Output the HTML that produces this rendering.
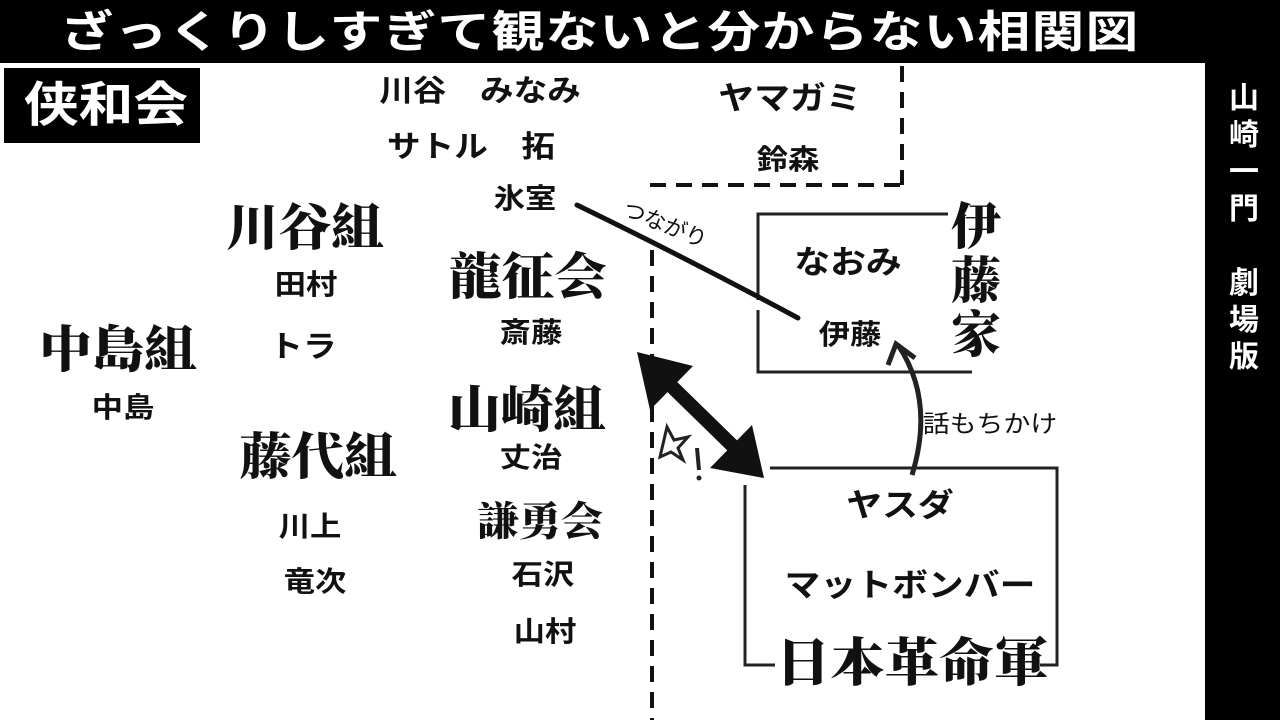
<!DOCTYPE html>
<html><head><meta charset="utf-8">
<style>
html,body{margin:0;padding:0;}
body{width:1280px;height:720px;position:relative;overflow:hidden;background:#fff;font-family:"Liberation Sans","Noto Sans CJK JP",sans-serif;}
.t{position:absolute;transform:translate(-50%,-50%) scaleX(1.12);white-space:nowrap;font-weight:bold;color:#111;line-height:1;}
.s{font-family:"Liberation Serif","Noto Serif CJK SC",serif;font-weight:900;}
.t.s{transform:translate(-50%,-50%) scaleX(1.05);}
</style></head><body>
<div style="position:absolute;left:0;top:0;width:1280px;height:63px;background:#000"></div>
<div style="position:absolute;left:1205px;top:0;width:75px;height:720px;background:#000"></div>
<div class="t" style="left:600px;top:33px;font-size:44px;color:#fff;letter-spacing:1px;transform:translate(-50%,-50%) scaleX(1.2)">ざっくりしすぎて観ないと分からない相関図</div>
<div style="position:absolute;left:1228px;top:80px;width:32px;font-size:30px;font-weight:bold;color:#fff;line-height:37px;text-align:center">山<br>崎<br>一<br>門<br><br>劇<br>場<br>版</div>
<div style="position:absolute;left:4px;top:68px;width:196px;height:75px;background:#000"></div>
<div class="t" style="left:106px;top:106px;font-size:48px;color:#fff;transform:translate(-50%,-50%) scaleX(1.14)">侠和会</div>

<svg width="1280" height="720" style="position:absolute;left:0;top:0">
<g stroke="#111" stroke-width="4" stroke-dasharray="16,10" fill="none">
<line x1="902" y1="66" x2="902" y2="185"/>
<line x1="650" y1="185" x2="902" y2="185"/>
<line x1="652" y1="250" x2="652" y2="720"/>
</g>
<g stroke="#222" stroke-width="3" fill="none">
<polyline points="948,214 758,214 758,300"/>
<polyline points="758,310 758,372 972,372"/>
<polyline points="770,468 1057,468 1057,665 1040,665"/>
<polyline points="745,485 745,665 775,665"/>
</g>
<path d="M577,205 Q690,260 798,318" stroke="#111" stroke-width="5" fill="none" stroke-linecap="round"/>
<g fill="#111">
<line x1="660" y1="375" x2="742" y2="455" stroke="#111" stroke-width="14"/>
<polygon points="637,352 693,366 650,410"/>
<polygon points="764,478 752,425 710,468"/>
</g>
<path d="M912,475 Q935,400 898,345" stroke="#222" stroke-width="5" fill="none"/>
<polyline points="888,365 896,344 915,358" stroke="#222" stroke-width="5" fill="none"/>
<polygon points="667,427 674,440 688,437 678,448 683,460 671,452 660,457 663,444" fill="none" stroke="#222" stroke-width="3"/>
<line x1="697" y1="448" x2="699" y2="470" stroke="#222" stroke-width="4"/>
<circle cx="699" cy="478" r="2.5" fill="#222"/>
</svg>
<div class="t" style="left:665px;top:225px;font-size:22px;font-weight:normal;transform:translate(-50%,-50%) rotate(22deg)">つながり</div>
<div class="t" style="left:990px;top:425px;font-size:24px;font-weight:normal;">話もちかけ</div>

<div class="t" style="left:480px;top:92px;font-size:30px">川谷　みなみ</div>
<div class="t" style="left:471px;top:148px;font-size:30px">サトル　拓</div>
<div class="t" style="left:525px;top:199px;font-size:28px">氷室</div>
<div class="t" style="left:790px;top:98px;font-size:32px">ヤマガミ</div>
<div class="t" style="left:788px;top:160px;font-size:28px">鈴森</div>
<div class="t s" style="left:305px;top:228px;font-size:50px">川谷組</div>
<div class="t" style="left:306px;top:285px;font-size:28px">田村</div>
<div class="t" style="left:303px;top:348px;font-size:30px">トラ</div>
<div class="t s" style="left:118px;top:350px;font-size:50px">中島組</div>
<div class="t" style="left:123px;top:408px;font-size:28px">中島</div>
<div class="t s" style="left:528px;top:277px;font-size:50px">龍征会</div>
<div class="t" style="left:531px;top:333px;font-size:28px">斎藤</div>
<div class="t s" style="left:527px;top:410px;font-size:50px">山崎組</div>
<div class="t" style="left:531px;top:458px;font-size:28px">丈治</div>
<div class="t s" style="left:318px;top:457px;font-size:50px">藤代組</div>
<div class="t" style="left:310px;top:527px;font-size:28px">川上</div>
<div class="t" style="left:315px;top:582px;font-size:28px">竜次</div>
<div class="t s" style="left:540px;top:522px;font-size:40px">謙勇会</div>
<div class="t" style="left:543px;top:575px;font-size:28px">石沢</div>
<div class="t" style="left:545px;top:632px;font-size:28px">山村</div>
<div class="t" style="left:848px;top:262px;font-size:32px">なおみ</div>
<div class="t" style="left:850px;top:335px;font-size:28px">伊藤</div>
<div class="s" style="position:absolute;left:950px;top:200px;width:52px;font-size:50px;line-height:54px;text-align:center;color:#111">伊<br>藤<br>家</div>
<div class="t" style="left:900px;top:505px;font-size:32px">ヤスダ</div>
<div class="t" style="left:910px;top:585px;font-size:32px">マットボンバー</div>
<div class="t s" style="left:912px;top:665px;font-size:52px">日本革命軍</div>
</body></html>
